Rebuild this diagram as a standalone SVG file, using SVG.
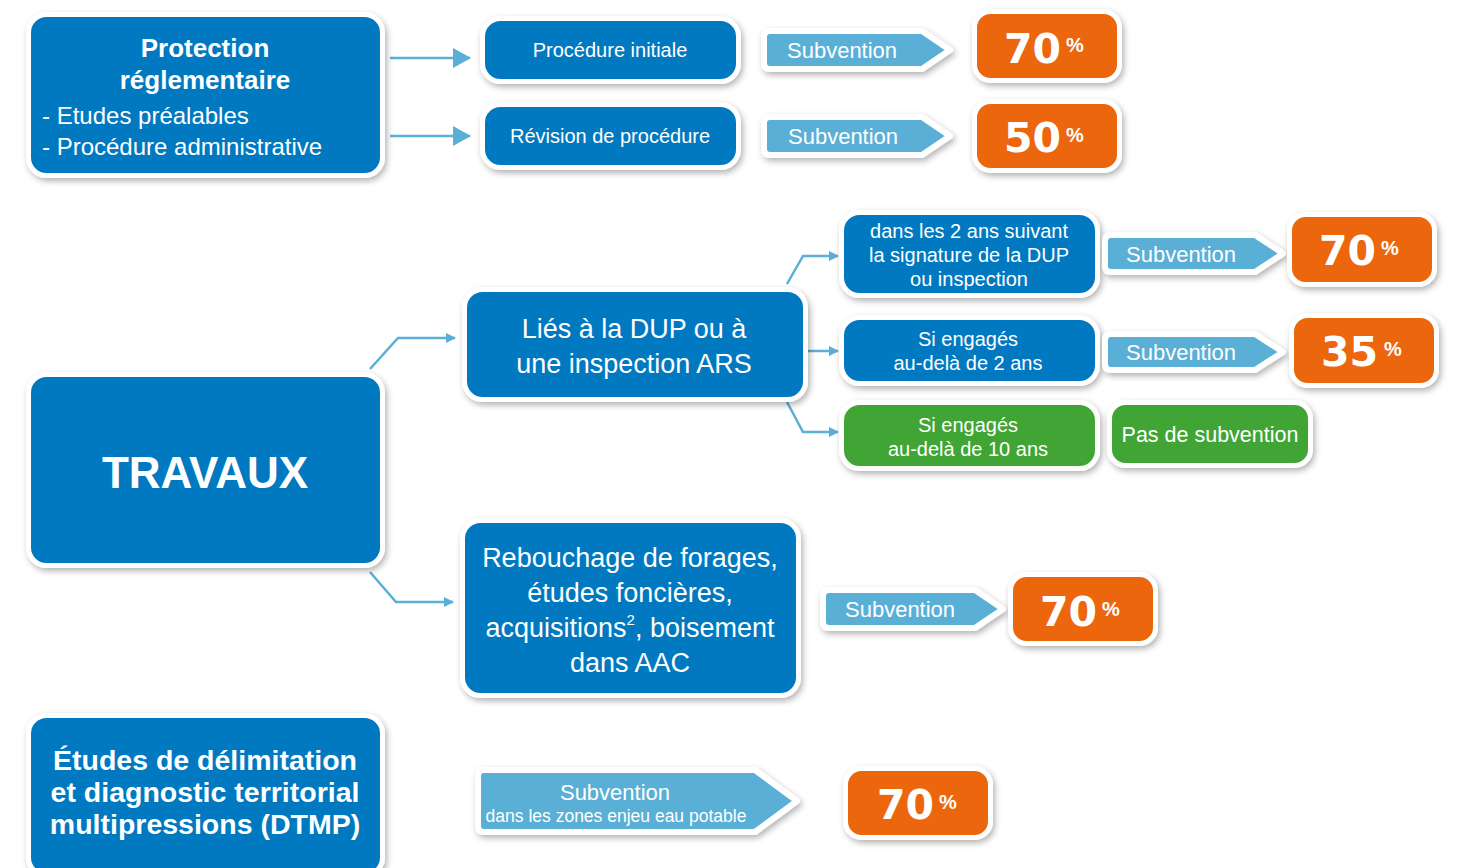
<svg xmlns="http://www.w3.org/2000/svg" width="1458" height="868" viewBox="0 0 1458 868">
<defs>
<filter id="sh" x="-10%" y="-20%" width="130%" height="150%">
<feDropShadow dx="2" dy="3" stdDeviation="3" flood-color="#000" flood-opacity="0.3"/>
</filter>
<marker id="ah" markerWidth="10" markerHeight="10" refX="9" refY="5" orient="auto" markerUnits="userSpaceOnUse" viewBox="0 0 10 10">
<path d="M0,0 L10,5 L0,10 Z" fill="#5AAFD6"/>
</marker>
<marker id="ahb" markerWidth="18" markerHeight="20" refX="17" refY="10" orient="auto" markerUnits="userSpaceOnUse" viewBox="0 0 18 20">
<path d="M0,0 L18,10 L0,20 Z" fill="#5AAFD6"/>
</marker>
</defs>
<style>
.dk{fill:#0079C0;stroke:#fff;stroke-width:5;filter:url(#sh)}
.gr{fill:#3FA535;stroke:#fff;stroke-width:5;filter:url(#sh)}
.or{fill:#EC6608;stroke:#fff;stroke-width:5;filter:url(#sh)}
.tg{fill:#5AAFD6;stroke:#fff;stroke-width:6;stroke-linejoin:round;filter:url(#sh)}
text{font-family:"Liberation Sans",Arial,sans-serif;fill:#fff}
.c{text-anchor:middle}
.t20{font-size:20px}
.t22{font-size:22px}
.t27{font-size:27px}
.b{font-weight:bold}
.num{font-family:"DejaVu Sans",sans-serif;font-size:41px;font-weight:bold;text-anchor:end}
.pc{font-size:20px;font-weight:bold}
.cn{fill:none;stroke:#5AAFD6;stroke-width:2.5}
</style>

<g id="connectors">
<path class="cn" d="M390,58 H470" marker-end="url(#ahb)"/>
<path class="cn" d="M390,136 H470" marker-end="url(#ahb)"/>
<path class="cn" d="M370,369 L398,338 H455" marker-end="url(#ah)"/>
<path class="cn" d="M370,572 L396,602 H453" marker-end="url(#ah)"/>
<path class="cn" d="M787,284 L803,256 H838" marker-end="url(#ah)"/>
<path class="cn" d="M808,351 H838" marker-end="url(#ah)"/>
<path class="cn" d="M787,402 L803,432 H838" marker-end="url(#ah)"/>
</g>

<g id="protection">
<rect class="dk" x="28.5" y="14.5" width="354" height="161" rx="18"/>
<text class="c b" x="205" y="57" font-size="26">Protection</text>
<text class="c b" x="205" y="89" font-size="26">réglementaire</text>
<text x="42" y="124" font-size="24">- Etudes préalables</text>
<text x="42" y="155" font-size="24">- Procédure administrative</text>
</g>

<g id="procedure-initiale">
<rect class="dk" x="482.5" y="18.5" width="256" height="63" rx="18"/>
<text class="c t20" x="610" y="57">Procédure initiale</text>
</g>
<g id="revision">
<rect class="dk" x="482.5" y="104.5" width="256" height="63" rx="18"/>
<text class="c t20" x="610" y="143">Révision de procédure</text>
</g>

<g id="sub1">
<path class="tg" d="M770,31 H922 L950,50 L922,69 H770 Q764,69 764,63 V37 Q764,31 770,31 Z"/>
<text class="t22" x="787" y="58">Subvention</text>
</g>
<g id="sub2">
<path class="tg" d="M770,117 H922 L950,136 L922,155 H770 Q764,155 764,149 V123 Q764,117 770,117 Z"/>
<text class="t22" x="788" y="144">Subvention</text>
</g>
<g id="pct1">
<rect class="or" x="974.5" y="11.5" width="145" height="69" rx="16"/>
<text class="num" x="1061" y="63">70</text>
<text class="pc" x="1066" y="52">%</text>
</g>
<g id="pct2">
<rect class="or" x="974.5" y="101.5" width="145" height="69" rx="16"/>
<text class="num" x="1061" y="152">50</text>
<text class="pc" x="1066" y="142">%</text>
</g>

<g id="travaux">
<rect class="dk" x="28.5" y="374.5" width="354" height="191" rx="18"/>
<text class="c b" x="205" y="488" font-size="44">TRAVAUX</text>
</g>

<g id="lies">
<rect class="dk" x="464.5" y="289.5" width="341" height="110" rx="18"/>
<text class="c t27" x="634" y="338">Liés à la DUP ou à</text>
<text class="c t27" x="634" y="373">une inspection ARS</text>
</g>

<g id="dans2ans">
<rect class="dk" x="841.5" y="212.5" width="256" height="83" rx="18"/>
<text class="c t20" x="969" y="238">dans les 2 ans suivant</text>
<text class="c t20" x="969" y="262">la signature de la DUP</text>
<text class="c t20" x="969" y="286">ou inspection</text>
</g>
<g id="au-dela-2">
<rect class="dk" x="841.5" y="317.5" width="256" height="66" rx="18"/>
<text class="c t20" x="968" y="346">Si engagés</text>
<text class="c t20" x="968" y="370">au-delà de 2 ans</text>
</g>
<g id="au-dela-10">
<rect class="gr" x="841.5" y="402.5" width="256" height="66" rx="18"/>
<text class="c t20" x="968" y="432">Si engagés</text>
<text class="c t20" x="968" y="456">au-delà de 10 ans</text>
</g>

<g id="sub3">
<path class="tg" d="M1111,235 H1255 L1283,253.5 L1255,272 H1111 Q1105,272 1105,266 V241 Q1105,235 1111,235 Z"/>
<text class="t22" x="1126" y="262">Subvention</text>
</g>
<g id="sub4">
<path class="tg" d="M1111,334 H1255 L1283,352 L1255,370 H1111 Q1105,370 1105,364 V340 Q1105,334 1111,334 Z"/>
<text class="t22" x="1126" y="360">Subvention</text>
</g>
<g id="pct3">
<rect class="or" x="1289.5" y="214.5" width="145" height="70" rx="16"/>
<text class="num" x="1376" y="265">70</text>
<text class="pc" x="1381" y="255">%</text>
</g>
<g id="pct4">
<rect class="or" x="1291.5" y="315.5" width="145" height="70" rx="16"/>
<text class="num" x="1378" y="366">35</text>
<text class="pc" x="1384" y="356">%</text>
</g>
<g id="pas-sub">
<rect class="gr" x="1109.5" y="402.5" width="201" height="63" rx="16"/>
<text class="c" x="1210" y="442" font-size="21.5">Pas de subvention</text>
</g>

<g id="rebouchage">
<rect class="dk" x="462.5" y="520.5" width="336" height="175" rx="18"/>
<text class="c t27" x="630" y="567">Rebouchage de forages,</text>
<text class="c t27" x="630" y="602">études foncières,</text>
<text class="c t27" x="630" y="637">acquisitions<tspan font-size="15" dy="-12">2</tspan><tspan dy="12">, boisement</tspan></text>
<text class="c t27" x="630" y="672">dans AAC</text>
</g>
<g id="sub5">
<path class="tg" d="M829,590 H975 L1003,609 L975,628 H829 Q823,628 823,622 V596 Q823,590 829,590 Z"/>
<text class="t22" x="845" y="617">Subvention</text>
</g>
<g id="pct5">
<rect class="or" x="1010.5" y="574.5" width="145" height="69" rx="16"/>
<text class="num" x="1097" y="626">70</text>
<text class="pc" x="1102" y="616">%</text>
</g>

<g id="dtmp">
<rect class="dk" x="28.5" y="715.5" width="354" height="160" rx="18"/>
<text class="c b" x="205" y="770" font-size="28.5">Études de délimitation</text>
<text class="c b" x="205" y="802" font-size="28.5">et diagnostic territorial</text>
<text class="c b" x="205" y="834" font-size="28.5">multipressions (DTMP)</text>
</g>
<g id="sub6">
<path class="tg" d="M484,770 H755 L797,801 L755,832 H484 Q478,832 478,826 V776 Q478,770 484,770 Z"/>
<text class="c t22" x="615" y="800">Subvention</text>
<text class="c" x="616" y="822" font-size="17.5">dans les zones enjeu eau potable</text>
</g>
<g id="pct6">
<rect class="or" x="845.5" y="768.5" width="145" height="69" rx="16"/>
<text class="num" x="934" y="819">70</text>
<text class="pc" x="939" y="809">%</text>
</g>
</svg>
